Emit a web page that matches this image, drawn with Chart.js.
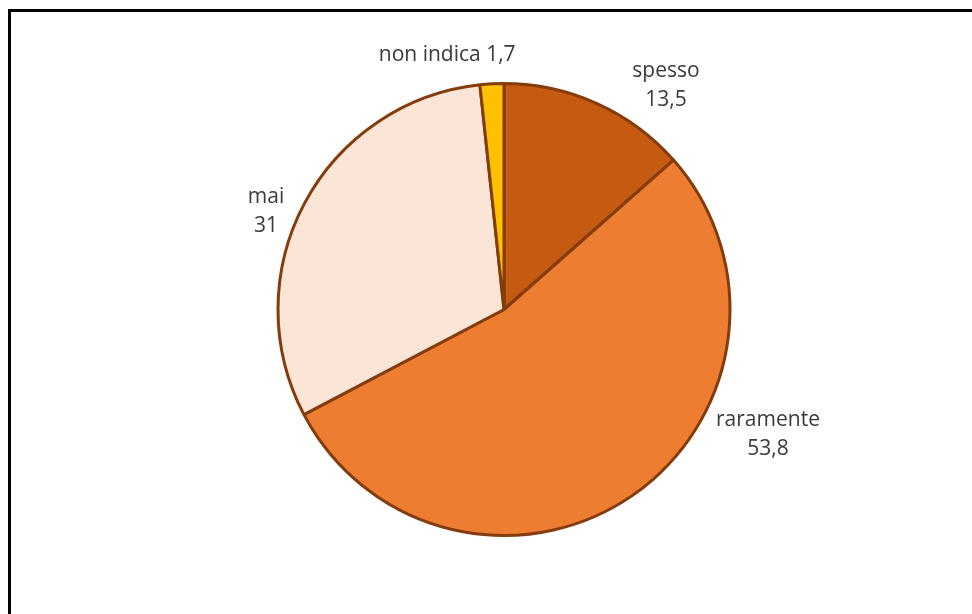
<!DOCTYPE html>
<html>
<head>
<meta charset="utf-8">
<script src="https://cdn.jsdelivr.net/npm/chart.js@4.4.1/dist/chart.umd.min.js"></script>
<style>
  html, body { margin: 0; padding: 0; background: #fff; }
  #wrap { position: relative; width: 972px; height: 614px; overflow: hidden; }
  #frame { position: absolute; left: 8px; top: 9px; width: 1000px; height: 700px; border: 3px solid #000; box-sizing: border-box; }
  canvas { position: absolute; left: 0; top: 0; }
</style>
</head>
<body>
<div id="wrap">
  <div id="frame"></div>
  <canvas id="pie" width="972" height="614"></canvas>
</div>
<script>
const categories = ["spesso", "raramente", "mai", "non indica"];
const values = [13.5, 53.8, 31, 1.7];
const sliceColors = ["#C55A11", "#ED7D31", "#FBE5D6", "#FFC000"];
// label placement: angle (deg, clockwise from top) and distance in radii
const labelAngles = [35.9, 115.3, 292.4, 347.4];
const labelDists = [1.222, 1.292, 1.139, 1.152];
const labelSeps = ["\n", "\n", "\n", " "];

const fmt = v => String(v).replace(".", ",");

const outsideLabels = {
    id: "outsideLabels",
    afterDatasetsDraw(chart) {
        const ctx = chart.ctx;
        const arcs = chart.getDatasetMeta(0).data;
        ctx.save();
        ctx.font = "21px 'Open Sans', sans-serif";
        ctx.fillStyle = "#3a3a3a";
        ctx.textAlign = "center";
        ctx.textBaseline = "middle";
        arcs.forEach((arc, i) => {
            const a = labelAngles[i] * Math.PI / 180;
            const r = arc.outerRadius * labelDists[i];
            const cx = arc.x + Math.sin(a) * r;
            const cy = arc.y - Math.cos(a) * r;
            const lines = (categories[i] + labelSeps[i] + fmt(values[i])).split("\n");
            const lh = 29;
            lines.forEach((t, k) => {
                ctx.fillText(t, cx, cy + (k - (lines.length - 1) / 2) * lh);
            });
        });
        ctx.restore();
    }
};

new Chart(document.getElementById("pie"), {
    type: "pie",
    plugins: [outsideLabels],
    data: {
        labels: categories,
        datasets: [{
            data: values,
            backgroundColor: sliceColors,
            borderColor: "#843C0C",
            borderWidth: 3
        }]
    },
    options: {
        responsive: false,
        animation: false,
        layout: { padding: { left: 276, right: 240, top: 82, bottom: 77 } },
        plugins: {
            legend: { display: false },
            tooltip: { enabled: false }
        }
    }
});
</script>
</body>
</html>
